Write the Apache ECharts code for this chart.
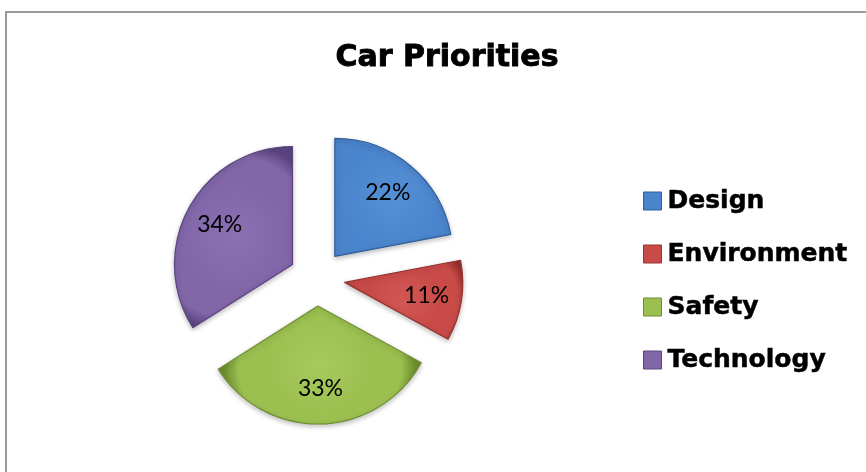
<!DOCTYPE html>
<html>
<head>
<meta charset="utf-8">
<script src="https://cdn.jsdelivr.net/npm/echarts@6/dist/echarts.min.js"></script>
<style>
  html, body { margin: 0; padding: 0; background: #ffffff; }
  #frame { position: absolute; left: 5px; top: 11px; width: 900px; height: 500px;
           border-top: 2px solid #9a9a9a; border-left: 2px solid #9a9a9a; box-sizing: border-box; }
  #chart { position: absolute; left: 0; top: 0; width: 866px; height: 472px; }
</style>
</head>
<body>
<div id="frame"></div>
<div id="chart"></div>
<script>
// Survey shares (percent)
const categories = ['Design', 'Environment', 'Safety', 'Technology'];
const shares = [22, 11, 33, 34];
const baseColors = ['#4a84cc', '#c94b48', '#9bc050', '#8166a8'];
const edgeColors = ['#2f5f9e', '#963230', '#6f8f2f', '#5c4480'];
const lightColors = ['#5590d6', '#d25754', '#a6ca5c', '#8b71b4'];

function shade(i) {
  return new echarts.graphic.RadialGradient(0.5, 0.5, 0.8, [
    { offset: 0, color: lightColors[i] },
    { offset: 0.55, color: baseColors[i] },
    { offset: 0.85, color: baseColors[i] },
    { offset: 1, color: edgeColors[i] }
  ]);
}

const sliceData = categories.map((name, i) => ({
  name: name,
  value: shares[i],
  selected: true,
  itemStyle: {
    color: shade(i),
    borderColor: edgeColors[i],
    borderWidth: 1.2,
    shadowBlur: 5,
    shadowColor: 'rgba(0,0,0,0.25)',
    shadowOffsetY: 2
  }
}));

// Transparent ring that carries the percentage labels further out
const labelData = categories.map((name, i) => ({
  name: name,
  value: shares[i],
  selected: true,
  itemStyle: { color: 'rgba(0,0,0,0)', borderWidth: 0 }
}));

const chart = echarts.init(document.getElementById('chart'), null, { renderer: 'canvas' });
chart.setOption({
  animation: false,
  title: {
    text: 'Car Priorities',
    left: 442,
    top: 38,
    textAlign: 'center',
    textStyle: {
      fontFamily: 'DejaVu Sans',
      fontWeight: 'bold',
      fontSize: 30,
      color: '#000',
      textBorderColor: '#000',
      textBorderWidth: 0.9
    }
  },
  legend: {
    orient: 'vertical',
    left: 638,
    top: 183,
    icon: 'rect',
    itemWidth: 18,
    itemHeight: 18,
    itemGap: 27,
    selectedMode: false,
    data: categories.map((name, i) => ({
      name: name,
      itemStyle: { color: baseColors[i], borderColor: edgeColors[i], borderWidth: 1 }
    })),
    textStyle: {
      fontFamily: 'DejaVu Sans',
      fontWeight: 'bold',
      fontSize: 25,
      lineHeight: 26,
      color: '#000',
      padding: [0, 0, 0, 1],
      textBorderColor: '#000',
      textBorderWidth: 0.5
    }
  },
  series: [
    {
      type: 'pie',
      center: [317, 278],
      radius: [0, 118],
      startAngle: 90,
      clockwise: true,
      selectedMode: 'multiple',
      selectedOffset: 28,
      silent: true,
      label: { show: false },
      labelLine: { show: false },
      emphasis: { disabled: true },
      data: sliceData
    },
    {
      type: 'pie',
      center: [317, 278],
      radius: [42, 118],
      startAngle: 90,
      clockwise: true,
      selectedMode: 'multiple',
      selectedOffset: 28,
      silent: true,
      label: {
        show: true,
        position: 'inside',
        formatter: '{c}%',
        fontFamily: 'Lato',
        fontSize: 23,
        color: '#000'
      },
      labelLine: { show: false },
      emphasis: { disabled: true },
      data: labelData
    }
  ]
});
</script>
</body>
</html>
